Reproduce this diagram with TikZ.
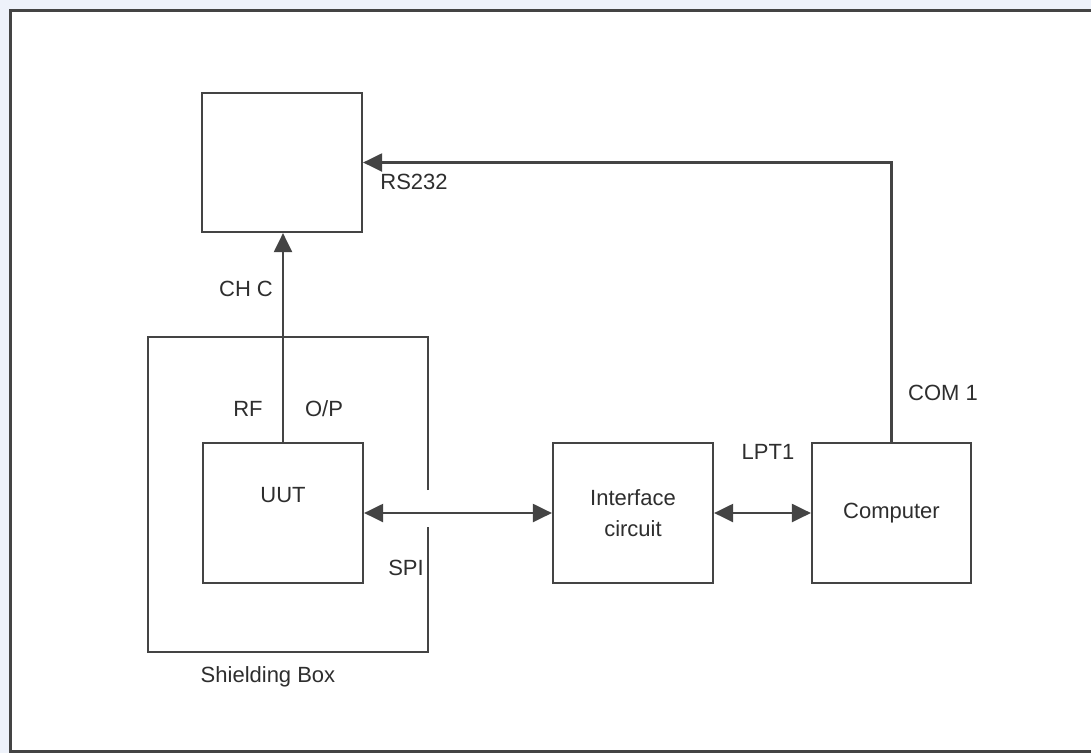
\documentclass[tikz,border=0pt]{standalone}
\usepackage{fontspec}
\setmainfont{Liberation Sans}
\usetikzlibrary{arrows.meta}
\definecolor{bgblue}{HTML}{EEF2FA}
\definecolor{ln}{HTML}{444444}
\definecolor{tx}{HTML}{2E2E2E}
\begin{document}
\begin{tikzpicture}[x=1pt,y=-1pt,
  >={Triangle[length=19pt,width=18pt]},
  blk/.style={draw=ln,line width=2.2pt,rectangle,minimum width=160pt,minimum height=140pt,inner sep=0pt,text=tx,font=\fontsize{22}{31}\selectfont,align=center},
  lbl/.style={text=tx,font=\fontsize{22}{26}\selectfont,inner sep=0pt},
  conn/.style={draw=ln,line width=2.2pt}
]
\useasboundingbox (0,0) rectangle (1091,753);
\fill[bgblue] (0,0) rectangle (1091,753);
\fill[white] (10,10) rectangle (1091,751);
\draw[ln,line width=3pt] (1093,10) -- (10,10) -- (10,751) -- (1093,751);

% boxes
\node[blk,minimum height=139pt] (top) at (282,162.5) {};
\node[blk] (uut) at (283,513) {};
\node[lbl] at (283,495) {UUT};
\node[blk] (iface) at (633,513) {Interface\\circuit};
\node[blk,minimum width=159pt] (comp) at (891.5,513) {Computer};

% shielding box with opening
\coordinate (sbA) at (428,490);
\coordinate (sbB) at (428,527);
\draw[conn] (sbA) -- (428,337) -- (148,337) -- (148,652) -- (428,652) -- (sbB);

% connectors
\draw[conn,->] (comp.north) |- (top.east);
\draw[conn,->] (uut.north) -- (uut.north |- top.south);
\draw[conn,<->] (uut.east) -- (iface.west);
\draw[conn,<->] (iface.east) -- (comp.west);

% labels
\node[lbl] (lrs) at (414,182) {RS232};
\node[lbl] (lchc) at (246,289) {CH C};
\node[lbl] (lrf) at (248,409) {RF};
\node[lbl] (lop) at (324,409) {O/P};
\node[lbl] (lspi) at (406,568) {SPI};
\node[lbl] (lsb) at (268,677) {Shielding Box};
\node[lbl] (llpt) at (768,452) {LPT1};
\node[lbl] (lcom) at (943,393) {COM 1};
\end{tikzpicture}
\end{document}
